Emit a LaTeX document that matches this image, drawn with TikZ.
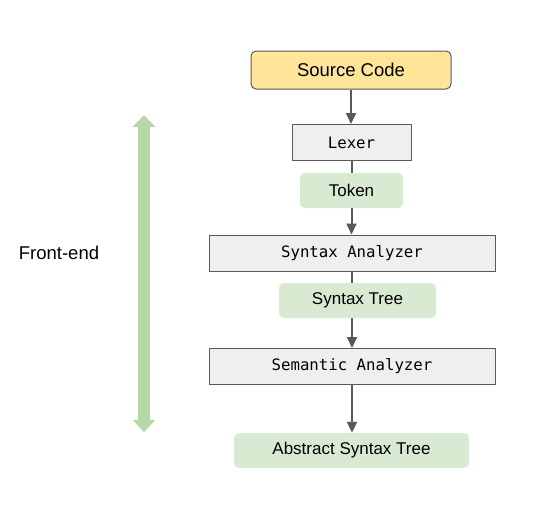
\documentclass[tikz,border=0pt]{standalone}
\usepackage{fontspec}
\setmainfont{Liberation Sans}
\setmonofont{DejaVu Sans Mono}
\usetikzlibrary{arrows.meta}

\definecolor{srcfill}{HTML}{FFE599}
\definecolor{phasefill}{HTML}{EFEFEF}
\definecolor{datafill}{HTML}{D9EAD3}
\definecolor{edgegray}{HTML}{595959}
\definecolor{rangegreen}{HTML}{B6D7A8}

\tikzset{
  sans/.style={font=\fontsize{18.5}{22}\selectfont},
  source/.style={sans, draw=edgegray, line width=1pt, fill=srcfill, rounded corners=5pt,
    minimum width=200pt, minimum height=38pt},
  phase/.style={draw=edgegray, line width=1pt, fill=phasefill, minimum height=36pt,
    font=\ttfamily\fontsize{15.7}{19}\selectfont},
  datum/.style={font=\fontsize{17}{20}\selectfont, fill=datafill, rounded corners=5pt,
    minimum height=35pt},
  flow/.style={draw=edgegray, line width=2pt, -{Triangle[width=10pt,length=11pt]}},
  link/.style={draw=edgegray, line width=2pt},
}

\begin{document}
\begin{tikzpicture}[x=1pt,y=-1pt]
    \useasboundingbox (0,0) rectangle (553,531);

    % pipeline
    \node[source] (src) at (351,70) {Source Code};
    \node[phase, minimum width=119pt] (lexer) at (351.5,142.5) {Lexer};
    \node[datum, minimum width=103pt] (token) at (351.5,190.5) {Token};
    \node[phase, minimum width=286pt] (synana) at (352,253) {Syntax Analyzer};
    \node[datum, minimum width=157pt] (syntree) at (357.5,300.5) {Syntax Tree};
    \node[phase, minimum width=286pt] (semana) at (352,366.5) {Semantic Analyzer};
    \node[datum, minimum width=235pt] (ast) at (351.5,450.5) {Abstract Syntax Tree};

    \draw[flow] (src) -- (src |- lexer.north);
    \draw[link] (lexer) -- (lexer |- token.north);
    \draw[flow] (token) -- (token |- synana.north);
    \draw[link] (synana) -- (synana |- syntree.north);
    \draw[flow] (synana |- syntree.south) -- (semana);
    \draw[flow] (semana) -- (semana |- ast.north);

    % front-end range
    \coordinate (fetop) at (144,115);
    \coordinate (febot) at (144,432);
    \draw[rangegreen, line width=12pt,
      {Triangle[width=22pt,length=12pt]}-{Triangle[width=22pt,length=12pt]}] (fetop) -- (febot);
    \node[sans] (frontend) at (59,253) {Front-end};
\end{tikzpicture}
\end{document}
